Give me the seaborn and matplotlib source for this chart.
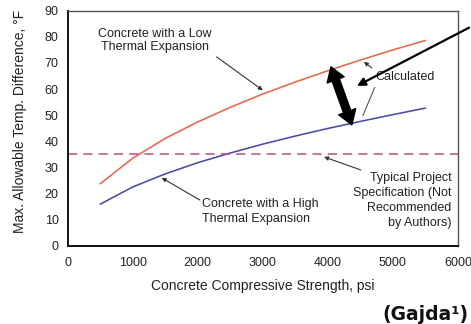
import matplotlib
matplotlib.use("Agg")
import matplotlib.pyplot as plt
from matplotlib.patches import FancyArrowPatch
import seaborn as sns
import pandas as pd

# Allowable temperature difference vs. compressive strength
strength_psi = [500, 1000, 1500, 2000, 2500, 3000, 3500, 4000, 4500, 5000, 5500]
low_expansion = [23.7, 33.5, 41.1, 47.4, 53.0, 58.1, 62.7, 67.0, 71.1, 75.0, 78.6]
high_expansion = [15.9, 22.5, 27.5, 31.8, 35.5, 38.9, 42.0, 44.9, 47.6, 50.2, 52.7]
spec_limit = 35
x_ticks = [0, 1000, 2000, 3000, 4000, 5000, 6000]
y_ticks = [0, 10, 20, 30, 40, 50, 60, 70, 80, 90]

sns.set_style("white")
plt.rcParams["font.family"] = ["Liberation Sans", "DejaVu Sans"]

df = pd.DataFrame({
    "strength": strength_psi * 2,
    "dT": low_expansion + high_expansion,
    "series": ["low"] * len(strength_psi) + ["high"] * len(strength_psi),
})

fig = plt.figure(figsize=(4.71, 3.24), dpi=100)
ax = fig.add_axes([0.1437, 0.2417, 0.8287, 0.7253])

sns.lineplot(data=df, x="strength", y="dT", hue="series",
             palette={"low": "#e8664a", "high": "#4a4aa8"},
             linewidth=1.15, legend=False, ax=ax)
ax.axhline(spec_limit, color="#c24a86", linestyle=(0, (6, 4)), linewidth=1.1)

ax.set_xlim(0, 6000)
ax.set_ylim(0, 90)
ax.set_xticks(x_ticks)
ax.set_yticks(y_ticks)
ax.tick_params(direction="inout", length=7, width=1.1, labelsize=9,
               colors="#222222")
ax.tick_params(axis="x", pad=5)
ax.tick_params(axis="y", pad=3)
ax.set_xlabel("Concrete Compressive Strength, psi", fontsize=10,
              color="#222222", labelpad=7)
ax.set_ylabel("Max. Allowable Temp. Difference, \u00b0F", fontsize=10,
              color="#222222")
ax.yaxis.set_label_coords(-0.105, 0.53)

for side in ("left", "bottom"):
    ax.spines[side].set_linewidth(1.4)
    ax.spines[side].set_color("#111111")
for side in ("top", "right"):
    ax.spines[side].set_linewidth(1.0)
    ax.spines[side].set_color("#555555")

txt = dict(fontsize=9, color="#222222")
thin = dict(arrowstyle="-|>", color="#333333", lw=0.8, mutation_scale=6,
            shrinkA=0, shrinkB=0)

ax.text(1340, 78.6, "Concrete with a Low\nThermal Expansion", ha="center",
        va="center", linespacing=1.2, **txt)
ax.annotate("", xy=(3000, 59.5), xytext=(2290, 72.3), arrowprops=thin)

ax.text(2060, 13.1, "Concrete with a High\nThermal Expansion", ha="left",
        va="center", linespacing=1.25, **txt)
ax.annotate("", xy=(1445, 26.0), xytext=(2030, 17.5), arrowprops=thin)

ax.text(5900, 17.3, "Typical Project\nSpecification (Not\nRecommended\nby Authors)",
        ha="right", va="center", linespacing=1.35, **txt)
ax.annotate("", xy=(3940, 34.0), xytext=(4506, 29.0), arrowprops=thin)

ax.text(4737, 64.6, "Calculated", ha="left", va="center", **txt)
ax.annotate("", xy=(4553, 70.4), xytext=(4675, 68.1), arrowprops=thin)
ax.annotate("", xy=(4522, 48.9), xytext=(4737, 61.6),
            arrowprops=dict(arrowstyle="-", color="#555555", lw=0.8))

# thick double-headed arrow spanning the two curves
top_end, bottom_end = (4047, 68.5), (4369, 46.3)
mid = ((top_end[0] + bottom_end[0]) / 2, (top_end[1] + bottom_end[1]) / 2)
for end in (top_end, bottom_end):
    ax.add_patch(FancyArrowPatch(
        mid, end, arrowstyle="simple,head_length=10,head_width=13,tail_width=5.5",
        mutation_scale=1, color="black", shrinkA=0, shrinkB=0, zorder=5))

# long pointer entering from the top right
ax.annotate("", xy=(4446, 61.2), xytext=(6170, 83.5),
            arrowprops=dict(arrowstyle="-|>", color="black", lw=1.6,
                            mutation_scale=12, shrinkA=0, shrinkB=0),
            annotation_clip=False)

fig.text(0.994, 0.028, "(Gajda\u00b9)", ha="right", va="center", fontsize=13.5,
         fontweight="bold", family="DejaVu Sans", color="#111111")

fig.savefig("out.png", dpi=100, facecolor="white")
